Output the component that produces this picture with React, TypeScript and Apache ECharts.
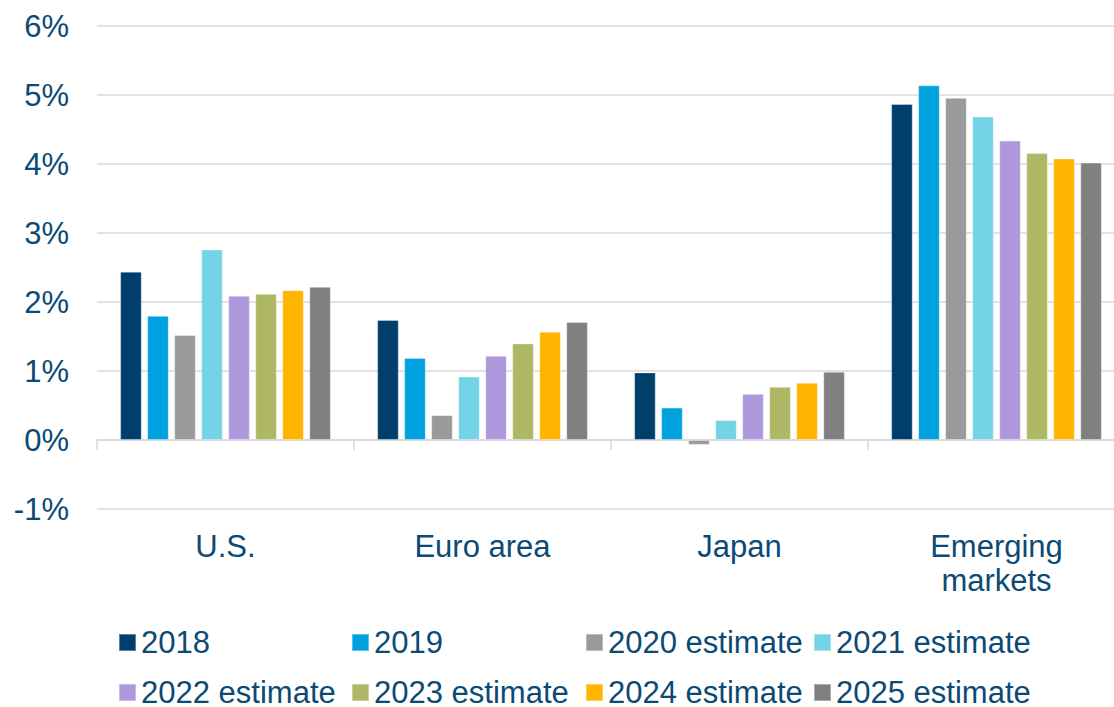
import React, { useEffect, useRef } from "react";
import * as echarts from "echarts";

const categories = ["U.S.", "Euro area", "Japan", "Emerging\nmarkets"];
const seriesNames = [
  "2018",
  "2019",
  "2020 estimate",
  "2021 estimate",
  "2022 estimate",
  "2023 estimate",
  "2024 estimate",
  "2025 estimate",
];
const v2018 = [2.44, 1.74, 0.98, 4.87];
const v2019 = [1.8, 1.19, 0.47, 5.14];
const v2020 = [1.52, 0.36, -0.07, 4.96];
const v2021 = [2.76, 0.92, 0.29, 4.69];
const v2022 = [2.09, 1.22, 0.67, 4.34];
const v2023 = [2.12, 1.4, 0.77, 4.16];
const v2024 = [2.17, 1.57, 0.83, 4.08];
const v2025 = [2.22, 1.71, 0.99, 4.02];
const seriesValues = [v2018, v2019, v2020, v2021, v2022, v2023, v2024, v2025];
const colors = [
  "#003F6B",
  "#00A1DF",
  "#999A9C",
  "#75D3E7",
  "#AE98DC",
  "#AEB764",
  "#FFB400",
  "#808080",
];
const yMin = -1;
const yMax = 6;
const yInterval = 1;

const TEXT = "#0B4A75";
const GRID = "#D9D9D9";
const FONT = "'Liberation Sans', Arial, sans-serif";
const FS = 31;

export default function App() {
  const ref = useRef<HTMLDivElement>(null);
  useEffect(() => {
    if (!ref.current) return;
    const chart = echarts.init(ref.current, undefined, { renderer: "svg" });
    const legendCols = [118, 351, 585, 813];
    const legendRows = [627, 677];
    const legends = seriesNames.map((name, i) => ({
      show: true,
      left: legendCols[i % 4],
      top: legendRows[Math.floor(i / 4)],
      data: [name],
      icon: "rect",
      itemWidth: 17,
      itemHeight: 17,
      padding: 0,
      selectedMode: false,
      textStyle: {
        color: TEXT,
        fontSize: FS,
        fontFamily: FONT,
        lineHeight: 24,
        padding: [0, 0, 0, 0],
      },
    }));
    chart.setOption({
      animation: false,
      color: colors,
      textStyle: { fontFamily: FONT },
      grid: {
        left: 97,
        top: 26,
        width: 1028,
        height: 483,
        containLabel: false,
        outerBoundsMode: "none",
      },
      legend: legends,
      xAxis: [
        {
          type: "category",
          data: categories,
          axisLine: { show: true, onZero: true, lineStyle: { color: GRID, width: 1.5 } },
          axisTick: { show: true, length: 10, lineStyle: { color: GRID, width: 1.5 } },
          axisLabel: { show: false },
          splitLine: { show: false },
        },
        {
          type: "category",
          data: categories,
          position: "bottom",
          axisLine: { show: false, onZero: false },
          axisTick: { show: false },
          axisLabel: {
            show: true,
            color: TEXT,
            fontSize: FS,
            fontFamily: FONT,
            lineHeight: 34,
            margin: 20,
          },
          splitLine: { show: false },
        },
      ],
      yAxis: {
        type: "value",
        min: yMin,
        max: yMax,
        interval: yInterval,
        axisLine: { show: false },
        axisTick: { show: false },
        axisLabel: {
          color: TEXT,
          fontSize: FS,
          fontFamily: FONT,
          margin: 28,
          formatter: "{value}%",
        },
        splitLine: { show: true, lineStyle: { color: GRID, width: 1.5 } },
      },
      series: seriesNames.map((name, i) => ({
        name,
        type: "bar",
        xAxisIndex: 0,
        data: seriesValues[i],
        barGap: "25%",
        barCategoryGap: "18%",
        itemStyle: {
          color: colors[i],
          borderColor: "rgba(255,255,255,0.35)",
          borderWidth: 1,
        },
      })),
    });
    return () => chart.dispose();
  }, []);
  return (
    <div style={{ position: "fixed", left: 0, top: 0, width: 1114, height: 707, overflow: "hidden", background: "#fff" }}>
      <div ref={ref} style={{ width: 1140, height: 707 }} />
    </div>
  );
}
